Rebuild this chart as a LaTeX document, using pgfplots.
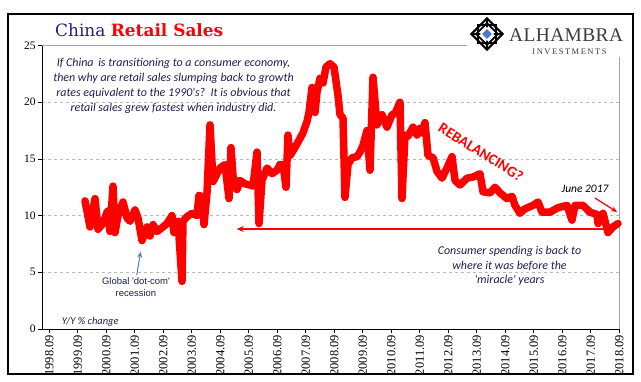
\documentclass[border=0pt]{standalone}
\usepackage{pgfplots}
\pgfplotsset{compat=1.18}
\usetikzlibrary{arrows.meta}
\usepackage{fontspec}
\setmainfont{Liberation Serif}
\newfontfamily\carlito{Carlito}
\newfontfamily\lsans{Liberation Sans}
\newfontfamily\dserif{DejaVu Serif}
\newfontfamily\logofont[LetterSpace=2]{Liberation Serif}
\newfontfamily\logosmall[LetterSpace=18]{Liberation Serif}
\definecolor{titleblue}{RGB}{32,32,130}
\definecolor{notecol}{RGB}{28,32,80}
\definecolor{arrowblue}{RGB}{79,129,189}
\definecolor{logogray}{RGB}{60,60,60}
\definecolor{logoblue}{RGB}{70,120,200}
\begin{document}
\begin{tikzpicture}[x=1bp,y=1bp]
\path (0,0) rectangle (641,381);
\begin{axis}[
  at={(49.3bp,52bp)}, anchor=origin, scale only axis,
  width=577bp, height=283.5bp,
  xmin=-0.246, xmax=20, ymin=0, ymax=25,
  axis lines=left, axis line style={-, black, line width=0.8bp},
  tick align=outside, major tick length=4bp,
  tick style={black, line width=0.7bp},
  xtick={0,...,20},
  xticklabels={1998.09,1999.09,2000.09,2001.09,2002.09,2003.09,2004.09,2005.09,2006.09,2007.09,2008.09,2009.09,2010.09,2011.09,2012.09,2013.09,2014.09,2015.09,2016.09,2017.09,2018.09},
  xticklabel style={rotate=90, anchor=east, font=\fontsize{12.5}{13}\selectfont, inner sep=2bp},
  ytick={0,5,10,15,20,25},
  yticklabel style={font=\fontsize{11.5}{12}\selectfont, inner sep=2.5bp},
  /pgf/number format/assume math mode=true,
  ymajorgrids, grid style={dashed, gray!55, line width=0.6bp},
  clip=false,
]
\draw[gray!70, line width=0.8bp] (rel axis cs:0,1) -- (rel axis cs:1,1) -- (rel axis cs:1,0);
\addplot[red, line width=7.5bp, line join=round, line cap=round, mark=none] coordinates {
(1.253,11.3)(1.428,9.0)(1.604,11.5)(1.709,8.8)(1.884,9.3)(2.025,10.3)(2.060,10.4)(2.130,8.6)
(2.235,12.6)(2.305,8.5)(2.411,10.0)(2.586,11.2)(2.726,9.8)(2.832,9.5)(3.007,10.5)(3.112,9.8)
(3.253,7.8)(3.428,9.0)(3.533,8.2)(3.639,9.2)(3.779,8.6)(3.989,9.0)(4.130,9.3)(4.305,10.0)
(4.375,8.5)(4.516,9.5)(4.656,4.2)(4.691,9.5)(4.832,9.9)(5.007,10.2)(5.182,10.0)(5.253,11.8)
(5.358,11.6)(5.428,9.2)(5.533,12.0)(5.639,18.0)(5.744,13.0)(5.989,14.2)(6.165,14.5)(6.305,11.5)
(6.375,16.0)(6.446,13.5)(6.586,12.3)(6.691,13.1)(6.867,12.8)(7.042,12.7)(7.147,12.6)(7.288,15.6)
(7.358,9.3)(7.463,13.1)(7.639,14.2)(7.814,13.7)(7.989,14.0)(8.095,14.5)(8.200,14.5)(8.305,12.5)
(8.375,17.1)(8.446,15.3)(8.621,16.0)(8.796,16.8)(8.902,17.3)(9.042,18.3)(9.112,19.1)(9.218,21.3)
(9.323,19.1)(9.393,20.9)(9.498,22.1)(9.604,21.7)(9.709,23.1)(9.849,23.4)(9.989,23.1)(10.130,20.6)
(10.200,18.9)(10.305,18.6)(10.375,11.6)(10.481,14.5)(10.621,15.1)(10.796,15.2)(10.902,15.6)(11.007,16.2)
(11.147,17.5)(11.253,14.0)(11.358,22.2)(11.498,18.0)(11.674,18.9)(11.849,17.8)(12.025,18.9)(12.130,19.0)
(12.305,20.0)(12.375,11.5)(12.481,17.1)(12.586,17.0)(12.762,17.8)(12.902,17.1)(13.007,17.7)(13.077,17.3)
(13.182,18.2)(13.288,15.3)(13.463,15.1)(13.604,13.9)(13.779,13.3)(13.954,14.2)(14.130,15.2)(14.235,13.1)
(14.411,12.7)(14.656,13.3)(14.867,13.4)(15.112,13.7)(15.218,12.1)(15.463,12.0)(15.639,12.5)(15.814,12.0)
(16.060,11.5)(16.235,11.7)(16.340,10.9)(16.516,10.2)(16.691,10.6)(16.972,10.9)(17.147,11.2)(17.288,10.3)
(17.568,10.3)(17.849,10.7)(18.165,10.9)(18.340,9.6)(18.446,10.9)
(18.726,10.9)(18.972,10.3)(19.217,10.1)(19.253,9.3)(19.428,10.2)(19.603,8.5)(19.779,9.0)(19.954,9.3)
};
\draw[red, line width=1.6bp, -{Stealth[length=7bp,width=6bp]}] (axis cs:19.67,8.82) -- (axis cs:6.575,8.82);
\end{axis}
% outer frame
\draw[black, line width=1.2bp] (8,7) rectangle (633,367);
% logo area
\fill[white] (467,324) rectangle (632.4,366.4);
\begin{scope}[shift={(487,347)}, scale=0.9]
  \fill[black] (0,19) -- (19,0) -- (0,-19) -- (-19,0) -- cycle;
  \fill[white] (0,15.5) -- (15.5,0) -- (0,-15.5) -- (-15.5,0) -- cycle;
  \draw[black, line width=2.2bp] (-10,-10) rectangle (10,10);
  \draw[black, line width=1.8bp] (0,12) -- (12,0) -- (0,-12) -- (-12,0) -- cycle;
  \draw[black, line width=1.4bp] (0,15.5) -- (0,-15.5) (-15.5,0) -- (15.5,0);
  \fill[white] (0,8) -- (8,0) -- (0,-8) -- (-8,0) -- cycle;
  \fill[logoblue] (0,5.5) -- (5.5,0) -- (0,-5.5) -- (-5.5,0) -- cycle;
\end{scope}
\node[anchor=base west, inner sep=0, text=logogray] at (509,339.3) {\logofont\fontsize{19.5}{20}\selectfont ALHAMBRA};
\node[anchor=base, inner sep=0, text=logogray] at (569.5,327) {\logosmall\fontsize{8.5}{9}\selectfont INVESTMENTS};
% title
\node[anchor=base west, inner sep=0] at (55,344.3) {\dserif\fontsize{17}{18}\selectfont\textcolor{titleblue}{China} \textcolor{red}{\bfseries Retail Sales}};
% notes
\begin{scope}[every node/.style={anchor=base, inner sep=0, text=notecol, font=\carlito\itshape\fontsize{12}{14}\selectfont}]
\node at (173.5,314.5) {If China\, is transitioning to a consumer economy,};
\node at (173.5,299.5) {then why are retail sales slumping back to growth};
\node at (173.5,284.5) {rates equivalent to the 1990's?\ \ It is obvious that};
\node at (173.5,270) {retail sales grew fastest when industry did.};
\node at (509.5,127) {Consumer spending is back to};
\node at (509.5,112) {where it was before the};
\node at (509.5,97.5) {'miracle' years};
\end{scope}
\node[anchor=base west, inner sep=0, text=notecol] at (61.7,56.7) {\carlito\itshape\fontsize{10.5}{12}\selectfont Y/Y \% change};
\node[anchor=base, inner sep=0, text=black] at (585,188.7) {\carlito\itshape\fontsize{11.5}{12}\selectfont June 2017};
\node[anchor=base, inner sep=0, text=notecol] at (136,96.7) {\lsans\fontsize{9.5}{11}\selectfont Global 'dot-com'};
\node[anchor=base, inner sep=0, text=notecol] at (136,84.3) {\lsans\fontsize{9.5}{11}\selectfont recession};
\draw[arrowblue, line width=1bp, -{Stealth[length=6bp,width=5bp]}] (136.7,106) -- (140.7,129.3);
\draw[red, line width=1.2bp, -{Stealth[length=6bp,width=5bp]}] (595,183) -- (617,169);
\node[rotate=-32, text=red, inner sep=0] at (481,229) {\carlito\bfseries\fontsize{15}{16}\selectfont REBALANCING?};
\end{tikzpicture}
\end{document}
